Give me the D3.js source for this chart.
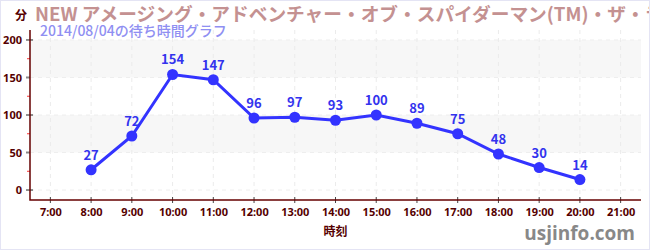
<!DOCTYPE html>
<html>
<head>
<meta charset="utf-8">
<script src="https://cdn.jsdelivr.net/npm/d3@7"></script>
<style>
  body { margin: 0; background: #fff; }
  svg { display: block; font-family: "Noto Sans CJK JP", "Noto Sans", sans-serif; }
</style>
</head>
<body>
<div id="chart"></div>
<script>
const width = 650;
const height = 250;

// data
const hours = [8, 9, 10, 11, 12, 13, 14, 15, 16, 17, 18, 19, 20];
const waits = [27, 72, 154, 147, 96, 97, 93, 100, 89, 75, 48, 30, 14];
const xTicks = [7, 8, 9, 10, 11, 12, 13, 14, 15, 16, 17, 18, 19, 20, 21];
const yTicks = [0, 50, 100, 150, 200];
const yMinor = [25, 75, 125, 175];

const plot = { left: 30, right: 641, top: 30, bottom: 200 };

const svg = d3.select('#chart')
  .append('svg')
  .attr('width', width)
  .attr('height', height);

const x = d3.scaleLinear()
  .domain([6.5, 21.5])
  .range([plot.left, plot.right]);

const y = d3.scaleLinear()
  .domain([-13.3, 213.3])
  .range([plot.bottom, plot.top]);

// alternating bands
svg.selectAll('rect.band')
  .data([[150, 200], [50, 100]])
  .join('rect')
  .attr('class', 'band')
  .attr('x', plot.left)
  .attr('width', plot.right - plot.left)
  .attr('y', d => y(d[1]))
  .attr('height', d => y(d[0]) - y(d[1]))
  .attr('fill', '#f7f7f7');

// dashed grid
svg.selectAll('line.vgrid')
  .data(xTicks)
  .join('line')
  .attr('class', 'vgrid')
  .attr('x1', d => x(d)).attr('x2', d => x(d))
  .attr('y1', plot.top).attr('y2', plot.bottom)
  .attr('stroke', '#ebebeb')
  .attr('stroke-dasharray', '4,4');

svg.selectAll('line.hgrid')
  .data(yTicks)
  .join('line')
  .attr('class', 'hgrid')
  .attr('x1', plot.left).attr('x2', plot.right)
  .attr('y1', d => y(d)).attr('y2', d => y(d))
  .attr('stroke', '#eeeeee')
  .attr('stroke-dasharray', '4,4');

// title
svg.append('text')
  .attr('x', 35)
  .attr('y', 21)
  .attr('fill', '#c49191')
  .style('font-size', '18.7px')
  .style('font-weight', 'bold')
  .text('NEW アメージング・アドベンチャー・オブ・スパイダーマン(TM)・ザ・ライド 4K3D');

svg.append('text')
  .attr('x', 40)
  .attr('y', 36)
  .attr('fill', '#8f8ff2')
  .style('font-size', '14px')
  .style('font-weight', '500')
  .text('2014/08/04の待ち時間グラフ');

// y unit
svg.append('text')
  .attr('x', 15)
  .attr('y', 20)
  .attr('fill', '#550000')
  .style('font-size', '12px')
  .style('font-weight', 'bold')
  .text('分');

// Y axis
const yAxis = svg.append('g')
  .attr('transform', `translate(${plot.left},0)`)
  .call(d3.axisLeft(y).tickValues(yTicks).tickSize(0).tickPadding(8));
yAxis.select('.domain').remove();
yAxis.selectAll('text')
  .attr('fill', '#550000')
  .style('font-size', '11px')
  .style('font-weight', 'bold')
  .style('font-family', '"Liberation Sans Narrow", "Noto Sans", sans-serif');

svg.selectAll('line.ymajor')
  .data(yTicks)
  .join('line')
  .attr('class', 'ymajor')
  .attr('x1', plot.left - 4).attr('x2', d => d % 100 === 0 ? plot.left + 3 : plot.left)
  .attr('y1', d => y(d)).attr('y2', d => y(d))
  .attr('stroke', d => d % 100 === 0 ? '#222' : '#888')
  .attr('stroke-width', d => d % 100 === 0 ? 1 : 2);

svg.selectAll('line.yminor')
  .data(yMinor)
  .join('line')
  .attr('class', 'yminor')
  .attr('x1', plot.left - 3).attr('x2', plot.left)
  .attr('y1', d => y(d)).attr('y2', d => y(d))
  .attr('stroke', '#ff3333');

// X axis
const xAxis = svg.append('g')
  .attr('transform', `translate(0,${plot.bottom})`)
  .call(d3.axisBottom(x).tickValues(xTicks).tickSize(0).tickPadding(8).tickFormat(d => d + ':00'));
xAxis.select('.domain').remove();
xAxis.selectAll('text')
  .attr('fill', '#550000')
  .style('font-size', '11px')
  .style('font-weight', 'bold')
  .style('font-family', '"Liberation Sans Narrow", "Noto Sans", sans-serif');

svg.selectAll('line.xtick')
  .data(xTicks)
  .join('line')
  .attr('class', 'xtick')
  .attr('x1', d => x(d)).attr('x2', d => x(d))
  .attr('y1', plot.bottom - 3).attr('y2', plot.bottom + 3)
  .attr('stroke', '#444');

// axis lines
svg.append('path')
  .attr('d', `M${plot.left},${plot.top}V${plot.bottom}H${plot.right}`)
  .attr('fill', 'none')
  .attr('stroke', '#660000')
  .attr('stroke-width', 1.5);

svg.append('text')
  .attr('x', (plot.left + plot.right) / 2)
  .attr('y', 236)
  .attr('text-anchor', 'middle')
  .attr('fill', '#550000')
  .style('font-size', '12px')
  .style('font-weight', 'bold')
  .text('時刻');

// line + points
const points = hours.map((h, i) => ({ h, v: waits[i] }));

svg.append('path')
  .datum(points)
  .attr('fill', 'none')
  .attr('stroke', '#3333ff')
  .attr('stroke-width', 3)
  .attr('d', d3.line().x(d => x(d.h)).y(d => y(d.v)));

svg.selectAll('circle.pt')
  .data(points)
  .join('circle')
  .attr('class', 'pt')
  .attr('cx', d => x(d.h))
  .attr('cy', d => y(d.v))
  .attr('r', 5.5)
  .attr('fill', '#3333ff');

svg.selectAll('text.point-label')
  .data(points)
  .join('text')
  .attr('class', 'point-label')
  .attr('x', d => x(d.h))
  .attr('y', d => y(d.v) - 10)
  .attr('text-anchor', 'middle')
  .attr('fill', '#3333ee')
  .style('font-size', '13px')
  .style('font-weight', 'bold')
  .text(d => d.v);

// watermark
svg.append('text')
  .attr('x', 635)
  .attr('y', 240)
  .attr('text-anchor', 'end')
  .attr('fill', '#888')
  .style('font-size', '19px')
  .style('font-weight', 'bold')
  .style('font-family', '"Open Sans", "Noto Sans", sans-serif')
  .text('usjinfo.com');

// faint frame
svg.append('rect')
  .attr('x', 0.5).attr('y', 0.5)
  .attr('width', width - 1).attr('height', height - 1)
  .attr('fill', 'none')
  .attr('stroke', '#e4e4f4');
</script>
</body>
</html>
